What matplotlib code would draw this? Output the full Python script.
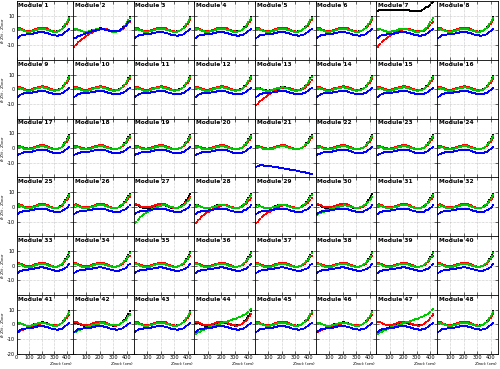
import matplotlib
matplotlib.use('Agg')
import matplotlib.pyplot as plt

plt.rcParams['font.family'] = ['DejaVu Sans']
plt.rcParams['axes.unicode_minus'] = False

# z positions of the track points (cm)
Z_TRACK = [10, 20, 30, 40, 50, 60, 70, 80, 90, 100, 110, 120, 130, 140,
           150, 160, 170, 180, 190, 200, 210, 220, 230, 240, 250, 260, 270,
           280, 290, 300, 310, 320, 330, 340, 350, 360, 370, 380, 390, 400,
           410, 420]

# typical residual profiles
BASE_K = [0.9, 1.1, 0.9, 0.5, 0.1, -0.3, -0.6, -0.8, -0.9, -0.9, -0.8, -0.6,
          -0.3, 0.0, 0.3, 0.6, 0.9, 1.1, 1.2, 1.3, 1.3, 1.2, 1.0, 0.7, 0.4,
          0.1, -0.2, -0.5, -0.7, -0.8, -0.8, -0.7, -0.5, -0.2, 0.3, 1.0, 2.0,
          3.1, 4.4, 5.8, 7.3, 9.0]
BASE_R = [1.5, 1.6, 1.4, 1.0, 0.6, 0.2, -0.1, -0.3, -0.4, -0.4, -0.3, -0.1,
          0.2, 0.5, 0.8, 1.1, 1.4, 1.6, 1.8, 1.9, 1.9, 1.8, 1.6, 1.3, 1.0,
          0.6, 0.2, -0.2, -0.5, -0.7, -0.8, -0.8, -0.6, -0.3, 0.1, 0.7, 1.4,
          2.3, 3.3, 4.4, 5.6, 6.8]
BASE_G = [0.8, 1.0, 0.8, 0.4, 0.0, -0.4, -0.7, -0.9, -1.0, -1.0, -0.9, -0.7,
          -0.4, -0.1, 0.2, 0.5, 0.8, 1.0, 1.1, 1.2, 1.2, 1.1, 0.9, 0.6, 0.3,
          0.0, -0.3, -0.6, -0.8, -0.9, -0.9, -0.8, -0.6, -0.3, 0.2, 0.9, 1.8,
          2.9, 4.1, 5.4, 6.8, 8.3]
BASE_B = [-5.0, -4.3, -3.8, -3.4, -3.1, -2.9, -2.8, -2.7, -2.7, -2.6, -2.5,
          -2.4, -2.2, -2.0, -1.8, -1.6, -1.4, -1.3, -1.2, -1.2, -1.2, -1.3,
          -1.5, -1.7, -2.0, -2.3, -2.6, -2.9, -3.1, -3.3, -3.4, -3.5, -3.5,
          -3.4, -3.2, -2.9, -2.5, -2.0, -1.4, -0.7, 0.1, 1.0]

# odd series
LOW_START = [-11.0, -10.0, -9.0, -8.0, -7.2, -6.4, -5.7, -5.0, -4.4, -3.8,
             -3.2, -2.6, -2.1, -1.6, -1.1, -0.6, -0.2, 0.2, 0.5, 0.8, 1.0,
             1.1, 1.1, 1.0, 0.8, 0.5, 0.2, -0.1, -0.4, -0.6, -0.7, -0.7,
             -0.6, -0.4, -0.1, 0.4, 1.0, 1.8, 2.7, 3.7, 4.8, 6.0]
MILD_START = [-5.5, -5.0, -4.5, -4.0, -3.6, -3.2, -2.8, -2.5, -2.2, -1.9,
              -1.6, -1.3, -1.0, -0.7, -0.4, -0.1, 0.2, 0.4, 0.6, 0.8, 0.9,
              0.9, 0.8, 0.6, 0.4, 0.1, -0.2, -0.4, -0.6, -0.7, -0.7, -0.6,
              -0.4, -0.1, 0.3, 0.9, 1.6, 2.4, 3.3, 4.3, 5.4, 6.6]
RISING = [-6.5, -6.0, -5.5, -5.0, -4.5, -4.0, -3.6, -3.2, -2.8, -2.4, -2.0,
          -1.7, -1.4, -1.1, -0.8, -0.5, -0.2, 0.1, 0.4, 0.7, 1.0, 1.3, 1.6,
          1.9, 2.2, 2.5, 2.8, 3.1, 3.4, 3.7, 4.0, 4.3, 4.7, 5.1, 5.6, 6.1,
          6.7, 7.3, 8.0, 8.7, 9.5, 10.3]
HIGH_K = [13.4, 13.6, 13.8, 13.9, 14.0, 14.0, 13.9, 13.8, 13.7, 13.6, 13.6,
          13.6, 13.7, 13.8, 13.9, 14.0, 14.1, 14.2, 14.2, 14.2, 14.1, 14.0,
          13.9, 13.7, 13.5, 13.3, 13.1, 13.0, 12.9, 12.9, 13.0, 13.2, 13.5,
          13.9, 14.4, 15.0, 15.6, 16.2, 16.9, 17.6, 18.3, 19.0]
DROP_B = [-13.0, -12.4, -12.0, -11.8, -11.8, -11.9, -12.0, -12.1, -12.2,
          -12.3, -12.4, -12.5, -12.6, -12.8, -12.9, -13.1, -13.2, -13.4,
          -13.5, -13.7, -13.8, -14.0, -14.2, -14.3, -14.5, -14.7, -14.8,
          -15.0, -15.2, -15.3, -15.5, -15.7, -15.8, -16.0, -16.2, -16.4,
          -16.6, -16.8, -17.0, -17.2, -17.5, -17.8]

SPECIAL = {
    (2, 'r'): LOW_START, (2, 'b'): MILD_START,
    (7, 'k'): HIGH_K, (7, 'r'): LOW_START,
    (13, 'r'): LOW_START,
    (21, 'b'): DROP_B,
    (27, 'g'): LOW_START, (28, 'r'): LOW_START, (29, 'r'): LOW_START,
    (30, 'g'): MILD_START,
    (41, 'r'): MILD_START, (42, 'g'): MILD_START,
    (44, 'g'): RISING, (46, 'r'): MILD_START,
    (47, 'k'): MILD_START, (47, 'g'): RISING,
}

BASES = {'k': BASE_K, 'r': BASE_R, 'g': BASE_G, 'b': BASE_B}
COLORS = {'k': 'black', 'r': '#ff0000', 'g': '#00c800', 'b': '#0000ff'}
ORDER = ['k', 'r', 'g', 'b']

YTICKS = [-10, 0, 10]
XTICKS = [0, 100, 200, 300, 400]

W, H = 500, 369
fig = plt.figure(figsize=(W / 100, H / 100), dpi=100)

col_left = [16.7, 73.0, 133.6, 194.3, 255.0, 315.6, 376.3, 437.0, 497.5]
row_top = [1.0, 59.8, 118.6, 177.4, 236.2, 295.0, 353.8]

for m in range(1, 49):
    r, c = (m - 1) // 8, (m - 1) % 8
    x0, x1 = col_left[c], col_left[c + 1]
    y0, y1 = row_top[r], row_top[r + 1]
    ax = fig.add_axes([x0 / W, 1 - y1 / H, (x1 - x0) / W, (y1 - y0) / H])
    for s in ORDER:
        vals = SPECIAL.get((m, s), BASES[s])
        ax.plot(Z_TRACK, vals, ls='none', marker='s', ms=1.9, mew=0,
                color=COLORS[s])
    ax.set_xlim(0, 450)
    ax.set_ylim(-20, 20)
    ax.set_xticks(XTICKS)
    ax.set_yticks(YTICKS if r < 5 else [-20] + YTICKS)
    ax.grid(True, ls=(0, (1, 1.5)), lw=0.4, color='#9a9a9a')
    ax.tick_params(direction='in', length=2, width=0.4, labelsize=3.6,
                   top=True, right=True, pad=1)
    for sp in ax.spines.values():
        sp.set_linewidth(0.6)
    if c > 0:
        ax.set_yticklabels([])
    if r < 5:
        ax.set_xticklabels([])
    elif c > 0:
        ax.set_xticklabels([''] + [str(v) for v in XTICKS[1:]])
    if r == 5:
        ax.text(1.0, -0.115, 'Z$_{track}$ (cm)', transform=ax.transAxes,
                ha='right', va='top', fontsize=3.2)
    if c == 0:
        fig.text(3.0 / W, 1 - (y0 + y1) / 2 / H,
                 '$\\delta$ Z$_{fit}$ - Z$_{laser}$', rotation=90,
                 ha='center', va='center', fontsize=3.2)
    ax.text(0.03, 0.97, 'Module %d' % m, transform=ax.transAxes,
            ha='left', va='top', fontsize=4.2, fontweight='bold')

fig.savefig('out.png', dpi=100)
